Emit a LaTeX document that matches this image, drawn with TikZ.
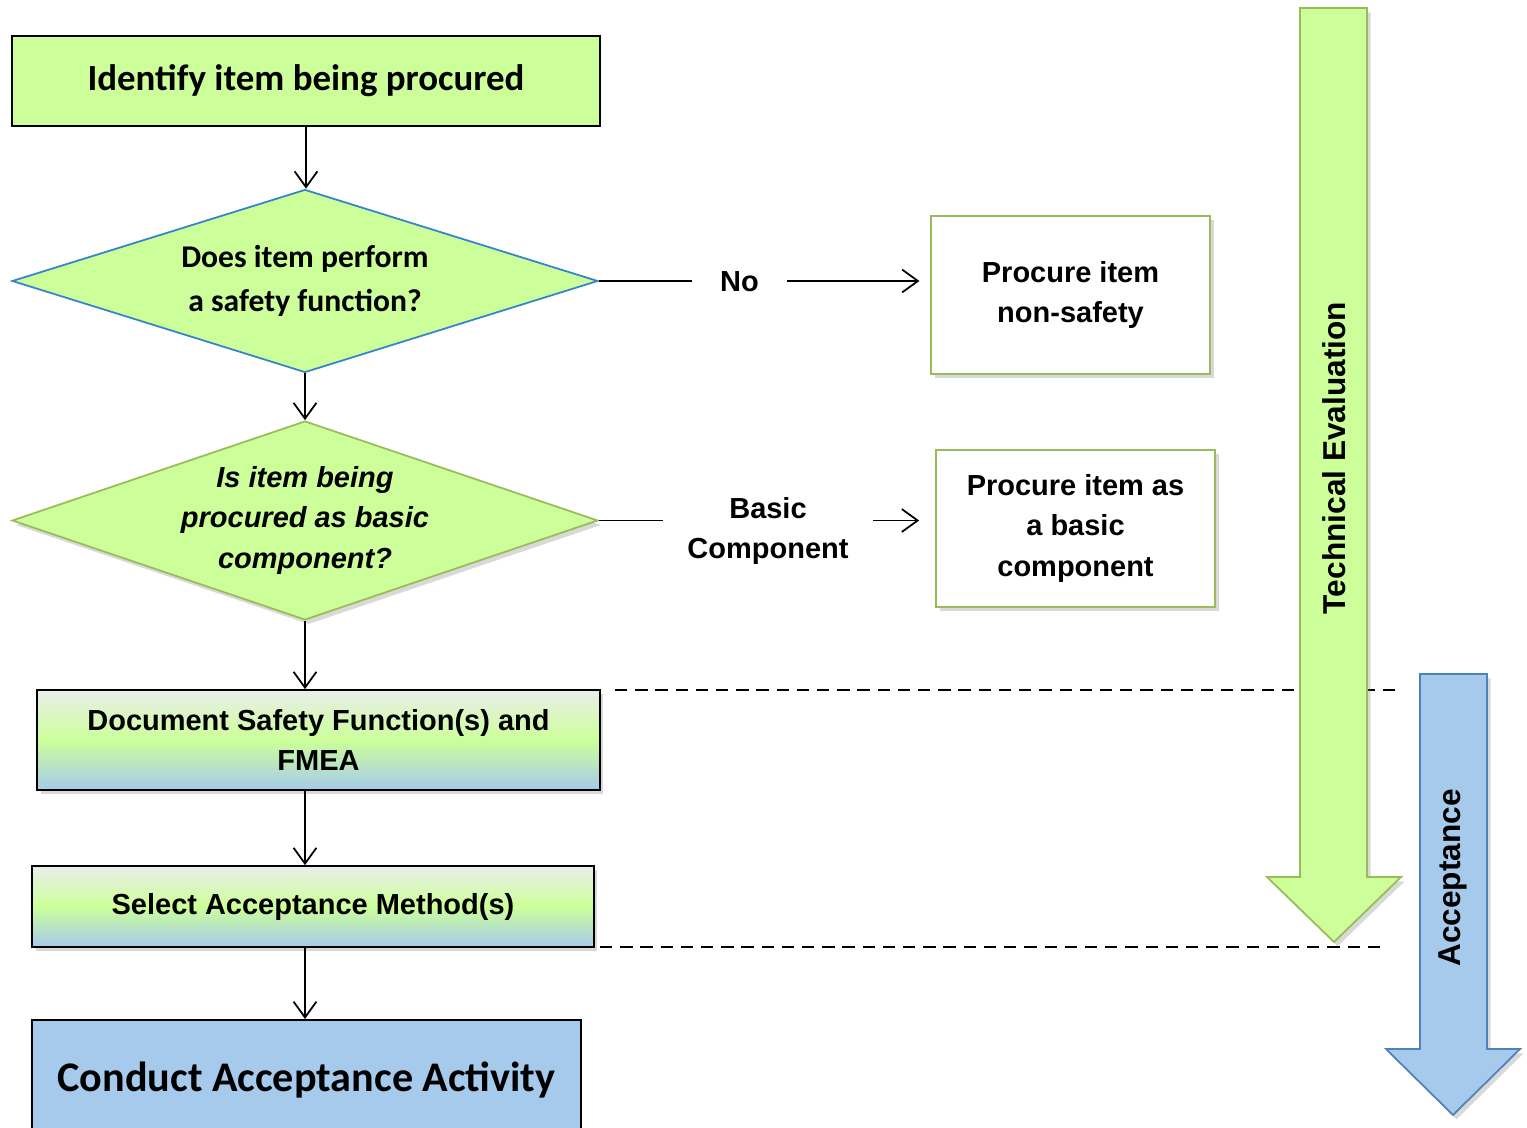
\documentclass[tikz,border=0pt]{standalone}
\usepackage{fontspec}
\setmainfont{Liberation Sans}
\newfontfamily\calibri{Carlito}
\usetikzlibrary{shapes.geometric,arrows.meta,shadows}
\definecolor{lgreen}{RGB}{204,255,153}
\definecolor{lblue}{RGB}{166,202,236}
\definecolor{gborder}{RGB}{155,187,89}
\definecolor{bborder}{RGB}{79,129,189}
\definecolor{dblue}{RGB}{52,132,204}
\definecolor{lgray}{RGB}{234,238,234}
\tikzset{
  flow/.style={-{Straight Barb[length=9pt,width=13pt]},line width=1pt},
  soft/.style={drop shadow={shadow xshift=2pt,shadow yshift=-2.5pt,opacity=.3}},
  box/.style={draw,line width=1.2pt,fill=lgreen,inner sep=0pt},
  decision/.style={diamond,aspect=3.2,fill=lgreen,line width=1pt,inner sep=-4pt,align=center},
  gradbox/.style={draw,line width=1pt,inner sep=0pt,align=center,soft,
    top color=lgray,bottom color=lblue,middle color=lgreen,
    font=\bfseries\fontsize{16.5}{23}\selectfont},
  outbox/.style={draw=gborder,line width=1.2pt,fill=white,inner sep=0pt,align=center,soft,
    font=\bfseries\fontsize{16.5}{23}\selectfont},
  lbl/.style={inner sep=0pt,align=center,font=\bfseries\fontsize{16.5}{23}\selectfont},
  bigarrow/.style={line width=1pt,soft},
}
\begin{document}
\begin{tikzpicture}[x=0.02cm,y=-0.02cm]
  \useasboundingbox (0,0) rectangle (1527,1128);
  % 左列流程
  \node[box,minimum width=11.76cm,minimum height=1.8cm,
    font=\calibri\bfseries\fontsize{21}{25}\selectfont] (item) at (306,81) {\raisebox{-2pt}{Identify item being procured}};
  \node[decision,draw=dblue,minimum width=11.72cm,minimum height=3.66cm,
    font=\calibri\bfseries\fontsize{18}{25}\selectfont] (safety) at (305,281) {\raisebox{-2pt}{Does item perform}\\\raisebox{-2pt}{a safety function?}};
  \node[decision,draw=gborder,soft,minimum width=11.72cm,minimum height=3.98cm,
    font=\bfseries\itshape\fontsize{16.5}{23}\selectfont] (basic) at (305,520.5) {Is item being\\procured as basic\\component?};
  \node[gradbox,minimum width=11.26cm,minimum height=2cm] (fmea) at (318.5,740) {Document Safety Function(s) and\\FMEA};
  \node[gradbox,minimum width=11.24cm,minimum height=1.62cm] (method) at (313,906.5) {Select Acceptance Method(s)};
  \node[box,fill=lblue,minimum width=10.98cm,minimum height=2.4cm,
    font=\calibri\bfseries\fontsize{24}{28}\selectfont] (activity) at (306.5,1080) {Conduct Acceptance Activity};
  % 右侧分支
  \node[outbox,minimum width=5.58cm,minimum height=3.16cm] (nonsafety) at (1070.5,295) {Procure item\\non-safety};
  \node[outbox,minimum width=5.58cm,minimum height=3.14cm] (asbasic) at (1075.5,528.5) {Procure item as\\a basic\\component};
  \node[lbl,minimum width=1.9cm] (no) at (739.5,282) {No};
  \node[lbl,minimum width=4.2cm] (bc) at (768,531) {Basic\\Component};
  % 连线
  \draw[flow] (item.south) -- (item.south |- safety.north);
  \draw[flow] (safety.south) -- (basic.north);
  \draw[flow] (basic.south) -- (basic.south |- fmea.north);
  \draw[flow] (basic.south |- fmea.south) -- (basic.south |- method.north);
  \draw[flow] (basic.south |- method.south) -- (basic.south |- activity.north);
  \draw[line width=1pt] (safety.east) -- (safety.east -| no.west);
  \draw[flow,shorten >=6pt] (safety.east -| no.east) -- (safety.east -| nonsafety.west);
  \draw[line width=1pt] (basic.east) -- (basic.east -| bc.west);
  \draw[flow,shorten >=9pt] (basic.east -| bc.east) -- (basic.east -| asbasic.west);
  % 分界虚线
  \draw[line width=1pt,dash pattern=on 7pt off 4.5pt] (615,690) -- (1397,690);
  \draw[line width=1pt,dash pattern=on 7pt off 4.5pt] (600,947) -- (1383,947);
  % 阶段大箭头
  \draw[bigarrow,draw=gborder,fill=lgreen] (1300,8) -- (1367,8) -- (1367,877) -- (1401,877)
    -- (1334,942) -- (1267,877) -- (1300,877) -- cycle;
  \node[lbl,rotate=90,font=\bfseries\fontsize{18}{22}\selectfont] (te) at (1334,458) {Technical Evaluation};
  \draw[bigarrow,draw=bborder,fill=lblue] (1420,674) -- (1487,674) -- (1487,1049) -- (1520,1049)
    -- (1453,1115) -- (1386,1049) -- (1420,1049) -- cycle;
  \node[lbl,rotate=90,font=\bfseries\fontsize{18}{22}\selectfont] (acc) at (1453,878) {Acceptance};
\end{tikzpicture}
\end{document}
